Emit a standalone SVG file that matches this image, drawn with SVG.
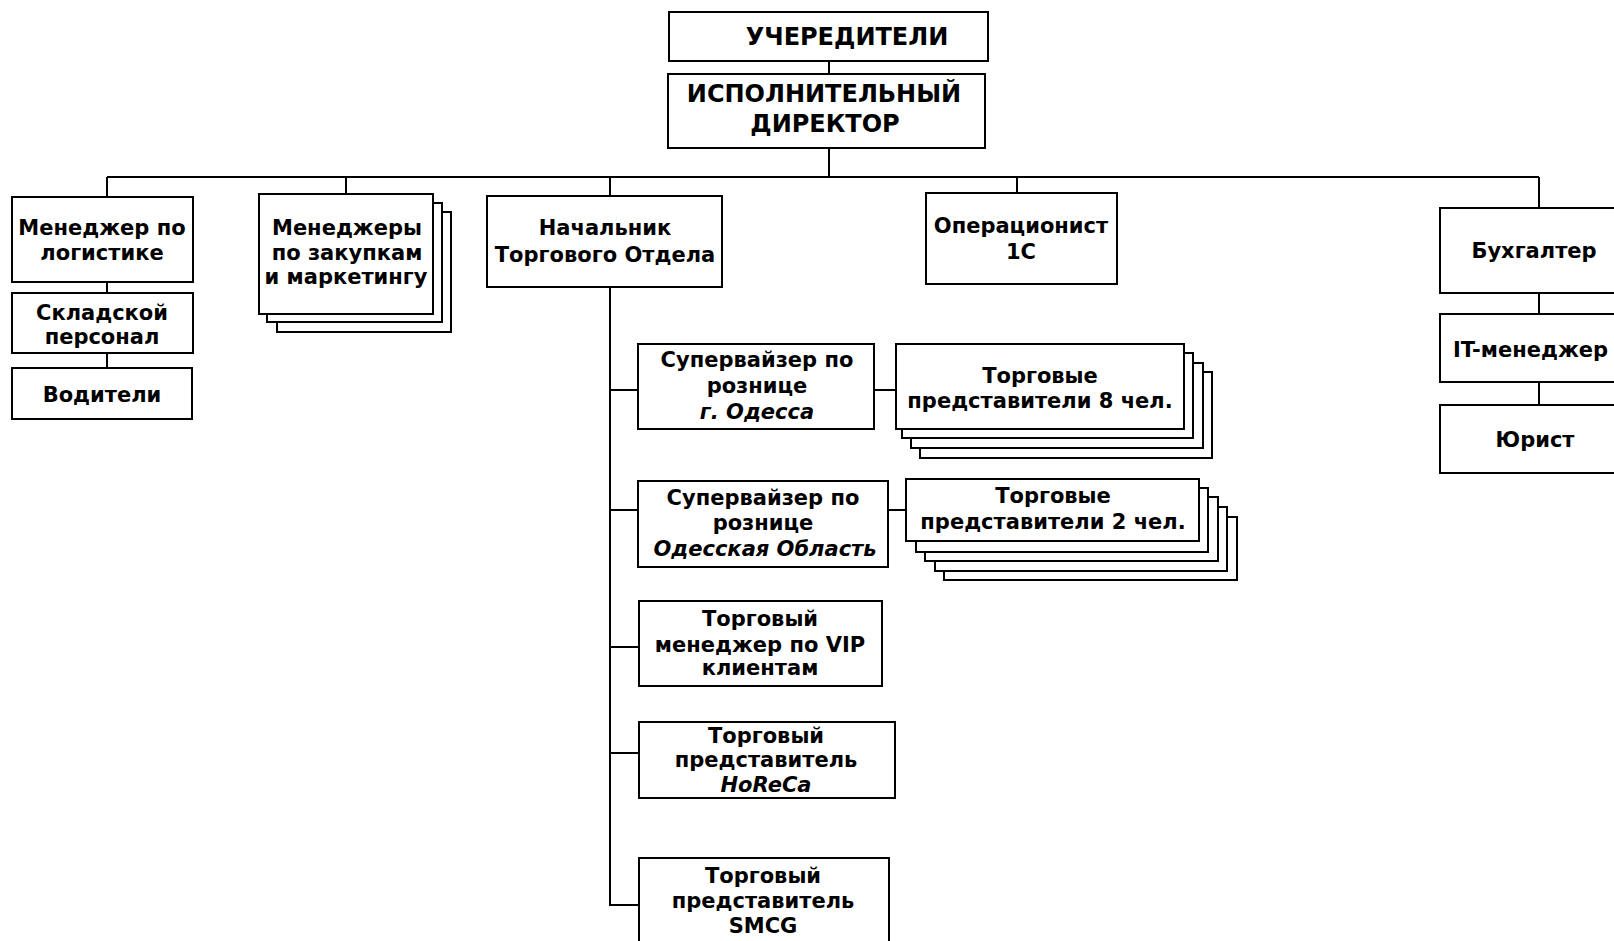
<svg xmlns="http://www.w3.org/2000/svg" width="1614" height="941" viewBox="0 0 1614 941">
<style>
rect{fill:#fff;stroke:#000;stroke-width:2}
.c path{fill:none;stroke:#000;stroke-width:2}
text{font-family:"DejaVu Sans","Verdana",sans-serif;font-weight:bold;font-size:21px;text-anchor:middle;fill:#000}
.t{font-size:24px}
.i{font-style:italic}
</style>
<rect x="0" y="0" width="1614" height="941" style="stroke:none"/>
<g class="c" id="connectors">
<path d="M829 61V74M829 148V177M107 177H1539M107 177V197M346 177V194M610 177V196M1017 177V193M1539 177V208"/>
<path d="M107 282V293M107 353V368M1539 293V314M1539 382V405"/>
<path d="M610 287V905H639M610 390H638M610 510H638M610 647H639M610 753H639M874 390H896M888 510H906"/>
</g>
<g id="founders"><rect x="669" y="12" width="319" height="49"/><text class="t" x="847" y="45">УЧЕРЕДИТЕЛИ</text></g>
<g id="director"><rect x="668" y="74" width="317" height="74"/><text class="t" x="824" y="102">ИСПОЛНИТЕЛЬНЫЙ</text><text class="t" x="825" y="132">ДИРЕКТОР</text></g>
<g id="logistics"><rect x="12" y="197" width="181" height="85"/><text x="102" y="235">Менеджер по</text><text x="102" y="260">логистике</text></g>
<g id="warehouse"><rect x="12" y="293" width="181" height="60"/><text x="102" y="320">Складской</text><text x="102" y="344">персонал</text></g>
<g id="drivers"><rect x="12" y="368" width="180" height="51"/><text x="102" y="402">Водители</text></g>
<g id="purchasing"><rect x="277" y="212" width="174" height="120"/><rect x="267" y="203" width="175" height="119"/><rect x="259" y="194" width="174" height="120"/><text x="347" y="235">Менеджеры</text><text x="347" y="260">по закупкам</text><text x="346" y="284">и маркетингу</text></g>
<g id="sales-head"><rect x="487" y="196" width="235" height="91"/><text x="605" y="235">Начальник</text><text x="605" y="262">Торгового Отдела</text></g>
<g id="operator"><rect x="926" y="193" width="191" height="91"/><text x="1021" y="233">Операционист</text><text x="1021" y="259">1С</text></g>
<g id="accountant"><rect x="1440" y="208" width="200" height="85"/><text x="1534" y="258">Бухгалтер</text></g>
<g id="it"><rect x="1440" y="314" width="200" height="68"/><text x="1453" y="357" style="text-anchor:start">IT-менеджер</text></g>
<g id="lawyer"><rect x="1440" y="405" width="200" height="68"/><text x="1535" y="447">Юрист</text></g>
<g id="sup-odessa"><rect x="638" y="344" width="236" height="85"/><text x="757" y="367">Супервайзер по</text><text x="757" y="393">рознице</text><text class="i" x="757" y="419">г. Одесса</text></g>
<g id="reps-8"><rect x="920" y="372" width="292" height="86"/><rect x="911" y="363" width="292" height="85"/><rect x="902" y="353" width="291" height="85"/><rect x="896" y="344" width="288" height="85"/><text x="1040" y="383">Торговые</text><text x="1040" y="408">представители 8 чел.</text></g>
<g id="sup-region"><rect x="638" y="481" width="250" height="86"/><text x="763" y="505">Супервайзер по</text><text x="763" y="530">рознице</text><text class="i" x="765" y="556">Одесская Область</text></g>
<g id="reps-2"><rect x="944" y="517" width="293" height="63"/><rect x="935" y="507" width="292" height="64"/><rect x="925" y="497" width="293" height="64"/><rect x="916" y="488" width="292" height="64"/><rect x="906" y="479" width="293" height="62"/><text x="1053" y="503">Торговые</text><text x="1053" y="529">представители 2 чел.</text></g>
<g id="vip"><rect x="639" y="601" width="243" height="85"/><text x="760" y="626">Торговый</text><text x="760" y="652">менеджер по VIP</text><text x="760" y="675">клиентам</text></g>
<g id="horeca"><rect x="639" y="722" width="256" height="76"/><text x="766" y="743">Торговый</text><text x="766" y="767">представитель</text><text class="i" x="766" y="792">HoReCa</text></g>
<g id="smcg"><rect x="639" y="858" width="250" height="100"/><text x="763" y="883">Торговый</text><text x="763" y="908">представитель</text><text x="763" y="933">SMCG</text></g>
</svg>
